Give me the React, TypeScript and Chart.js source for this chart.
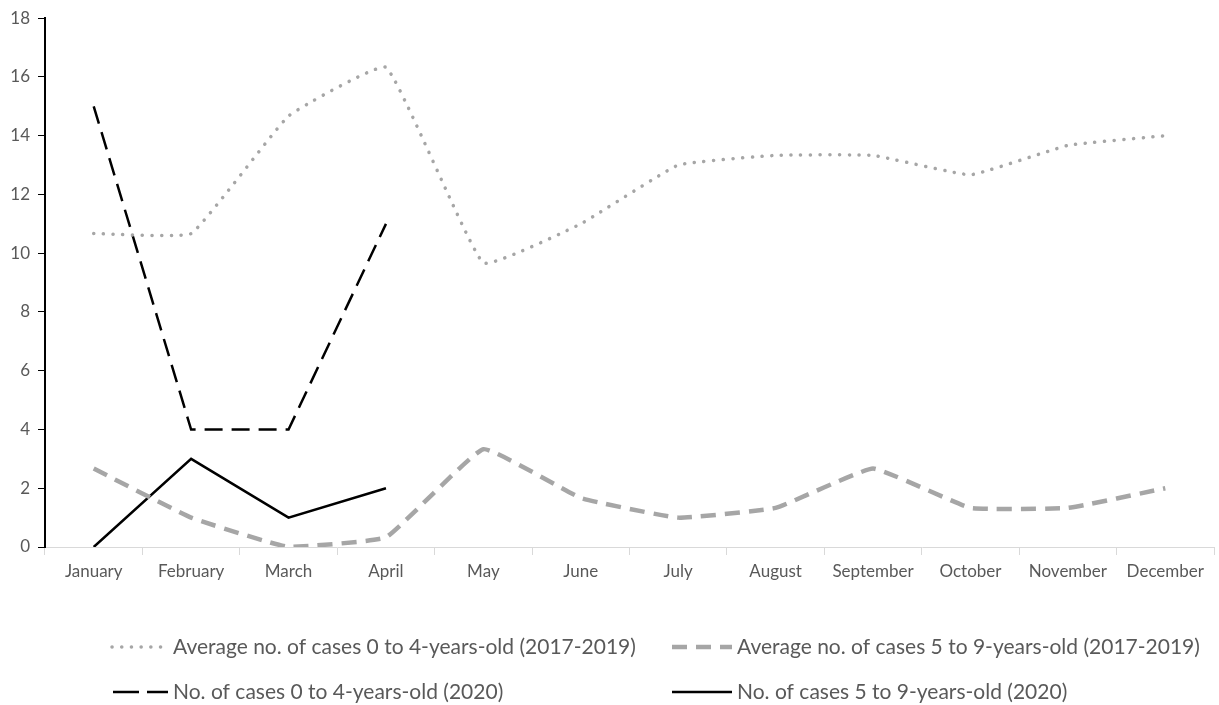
import React, { useEffect, useRef } from "react";
import { Chart, registerables } from "chart.js";

Chart.register(...registerables);

const months = ["January", "February", "March", "April", "May", "June", "July", "August", "September", "October", "November", "December"];
const avg0to4 = [10.67, 10.67, 14.67, 16.33, 9.67, 11, 13, 13.33, 13.33, 12.67, 13.67, 14];
const avg5to9 = [2.67, 1, 0, 0.33, 3.33, 1.67, 1, 1.33, 2.67, 1.33, 1.33, 2];
const cases0to4_2020 = [15, 4, 4, 11, null, null, null, null, null, null, null, null];
const cases5to9_2020 = [0, 3, 1, 2, null, null, null, null, null, null, null, null];
const seriesLabels = [
  "Average no. of cases 0 to 4-years-old (2017-2019)",
  "Average no. of cases 5 to 9-years-old (2017-2019)",
  "No. of cases 0 to 4-years-old (2020)",
  "No. of cases 5 to 9-years-old (2020)",
];

const FONT = "Lato, 'Open Sans', sans-serif";
const TEXT = "#595959";
const GRAY = "#a6a6a6";

const legendPlugin = {
  id: "customLegend",
  afterDraw(chart: any) {
    const ctx = chart.ctx;
    const ds = chart.data.datasets;
    const slots = [
      { x: 112, w: 56, tx: 173, y: 647, dash: null },
      { x: 672, w: 60, tx: 737, y: 647, dash: null },
      { x: 113, w: 55, tx: 173, y: 692, dash: [26, 8] },
      { x: 672, w: 60, tx: 737, y: 692, dash: null },
    ];
    ctx.save();
    ds.forEach((d: any, i: number) => {
      const s = slots[i];
      ctx.beginPath();
      ctx.strokeStyle = d.borderColor;
      ctx.lineWidth = d.borderWidth;
      ctx.lineCap = d.borderCapStyle || "butt";
      ctx.setLineDash(s.dash || d.borderDash || []);
      ctx.moveTo(s.x, s.y);
      ctx.lineTo(s.x + s.w, s.y);
      ctx.stroke();
      ctx.setLineDash([]);
      ctx.fillStyle = TEXT;
      ctx.font = `21px ${FONT}`;
      ctx.textBaseline = "middle";
      ctx.textAlign = "left";
      ctx.fillText(d.label, s.tx, s.y);
    });
    ctx.restore();
  },
};

export default function App() {
  const ref = useRef<HTMLCanvasElement>(null);
  useEffect(() => {
    document.body.style.margin = "0";
    const chart = new Chart(ref.current!, {
      type: "line",
      data: {
        labels: months,
        datasets: [
          {
            label: seriesLabels[0],
            data: avg0to4,
            borderColor: GRAY,
            borderWidth: 3.5,
            borderDash: [0.1, 9.6],
            borderCapStyle: "round",
            tension: 0.1,
            pointRadius: 0,
          },
          {
            label: seriesLabels[1],
            data: avg5to9,
            borderColor: GRAY,
            borderWidth: 4.5,
            borderDash: [15, 9],
            tension: 0.1,
            pointRadius: 0,
          },
          {
            label: seriesLabels[2],
            data: cases0to4_2020,
            borderColor: "#000000",
            borderWidth: 2.5,
            borderDash: [18, 9],
            tension: 0,
            pointRadius: 0,
          },
          {
            label: seriesLabels[3],
            data: cases5to9_2020,
            borderColor: "#000000",
            borderWidth: 2.5,
            tension: 0,
            pointRadius: 0,
          },
        ],
      },
      options: {
        animation: false,
        responsive: false,
        layout: { padding: { top: 18, right: 5, left: 0, bottom: 0 } },
        plugins: { legend: { display: false }, tooltip: { enabled: false } },
        scales: {
          x: {
            offset: true,
            grid: { display: true, offset: true, drawOnChartArea: false, tickLength: 8, color: "#d9d9d9", lineWidth: 1 },
            border: { display: true, color: "#d9d9d9", width: 1 },
            ticks: { color: TEXT, font: { family: FONT, size: 17 }, padding: 6, maxRotation: 0, autoSkip: false },
            afterFit: (s: any) => { s.height = 158; },
          },
          y: {
            min: 0,
            max: 18,
            grid: { display: true, drawOnChartArea: false, tickLength: 7, color: "#000000", lineWidth: 1 },
            border: { display: true, color: "#000000", width: 2 },
            ticks: { stepSize: 2, color: TEXT, font: { family: FONT, size: 17 }, padding: 8 },
            afterFit: (s: any) => { s.width = 45; },
          },
        },
      },
      plugins: [legendPlugin],
    } as any);
    return () => chart.destroy();
  }, []);
  return (
    <div style={{ width: 1219, height: 705 }}>
      <canvas ref={ref} width={1219} height={705} style={{ display: "block" }} />
    </div>
  );
}
